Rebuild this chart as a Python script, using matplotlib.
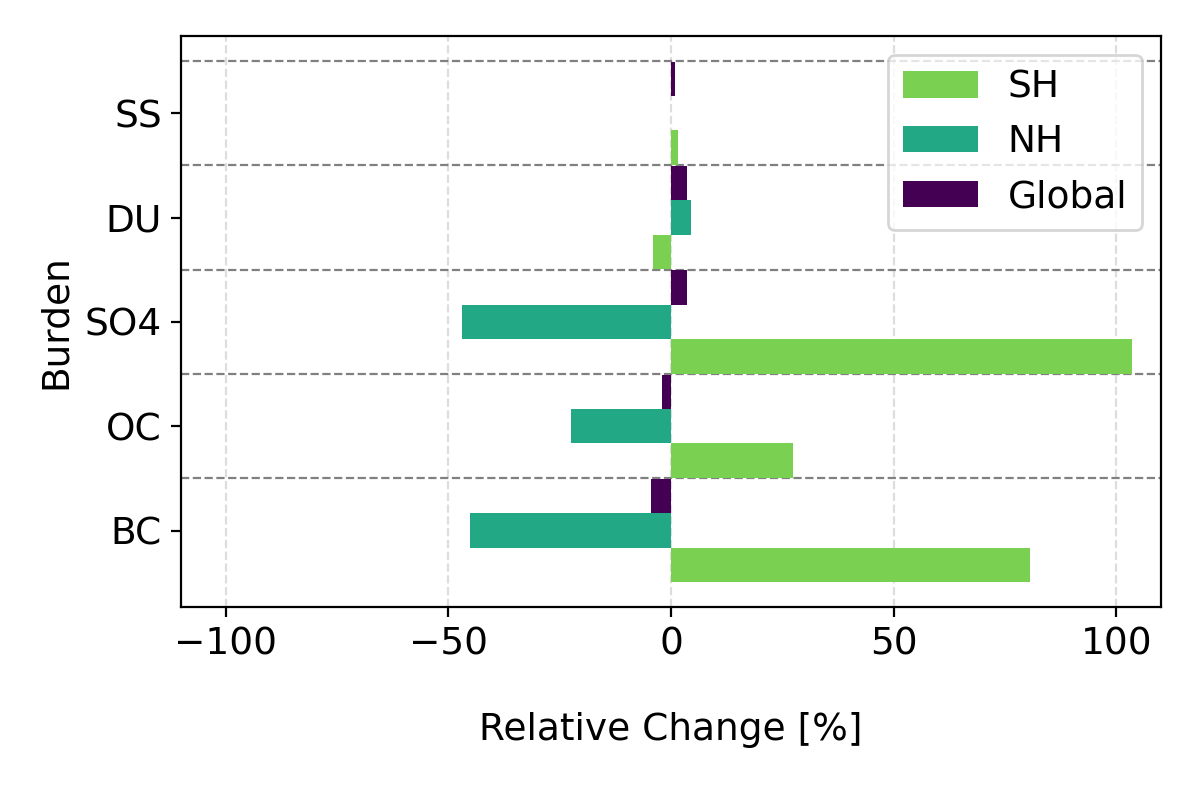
import matplotlib
matplotlib.use("Agg")
import matplotlib.pyplot as plt
import numpy as np

categories = ["BC", "OC", "SO4", "DU", "SS"]
global_vals = [-4.5, -2.0, 3.5, 3.5, 0.8]
nh_vals = [-45.2, -22.4, -47.0, 4.5, 0.0]
sh_vals = [80.5, 27.3, 103.6, -4.0, 1.5]

fig = plt.figure(figsize=(6, 3.955), dpi=200)
ax = fig.add_axes([0.151, 0.233, 0.8165, 0.7215])
y = np.arange(len(categories))
h = 0.33
ax.barh(y - h, sh_vals, height=h, color="#7ad151", label="SH", zorder=2)
ax.barh(y, nh_vals, height=h, color="#22a884", label="NH", zorder=2)
ax.barh(y + h, global_vals, height=h, color="#440154", label="Global", zorder=2)
for b in np.arange(len(categories)) + 0.5:
    ax.axhline(b, color="gray", ls="--", lw=0.8, zorder=1)
ax.set_xticks([-100, -50, 0, 50, 100])
ax.xaxis.grid(True, ls="--", color="#dddddd", lw=0.8, zorder=0)
ax.set_axisbelow(True)
ax.set_xlim(-110, 110)
ax.set_ylim(-0.73, 4.74)
ax.set_yticks(y)
ax.set_yticklabels(categories)
ax.tick_params(labelsize=13.5)
ax.set_xlabel("Relative Change [%]", fontsize=13.5, labelpad=18)
ax.set_ylabel("Burden", fontsize=13.5)
h_, l_ = ax.get_legend_handles_labels()
ax.legend(h_, l_, loc="upper right", fontsize=13.5)
fig.savefig("out.png", dpi=200)
